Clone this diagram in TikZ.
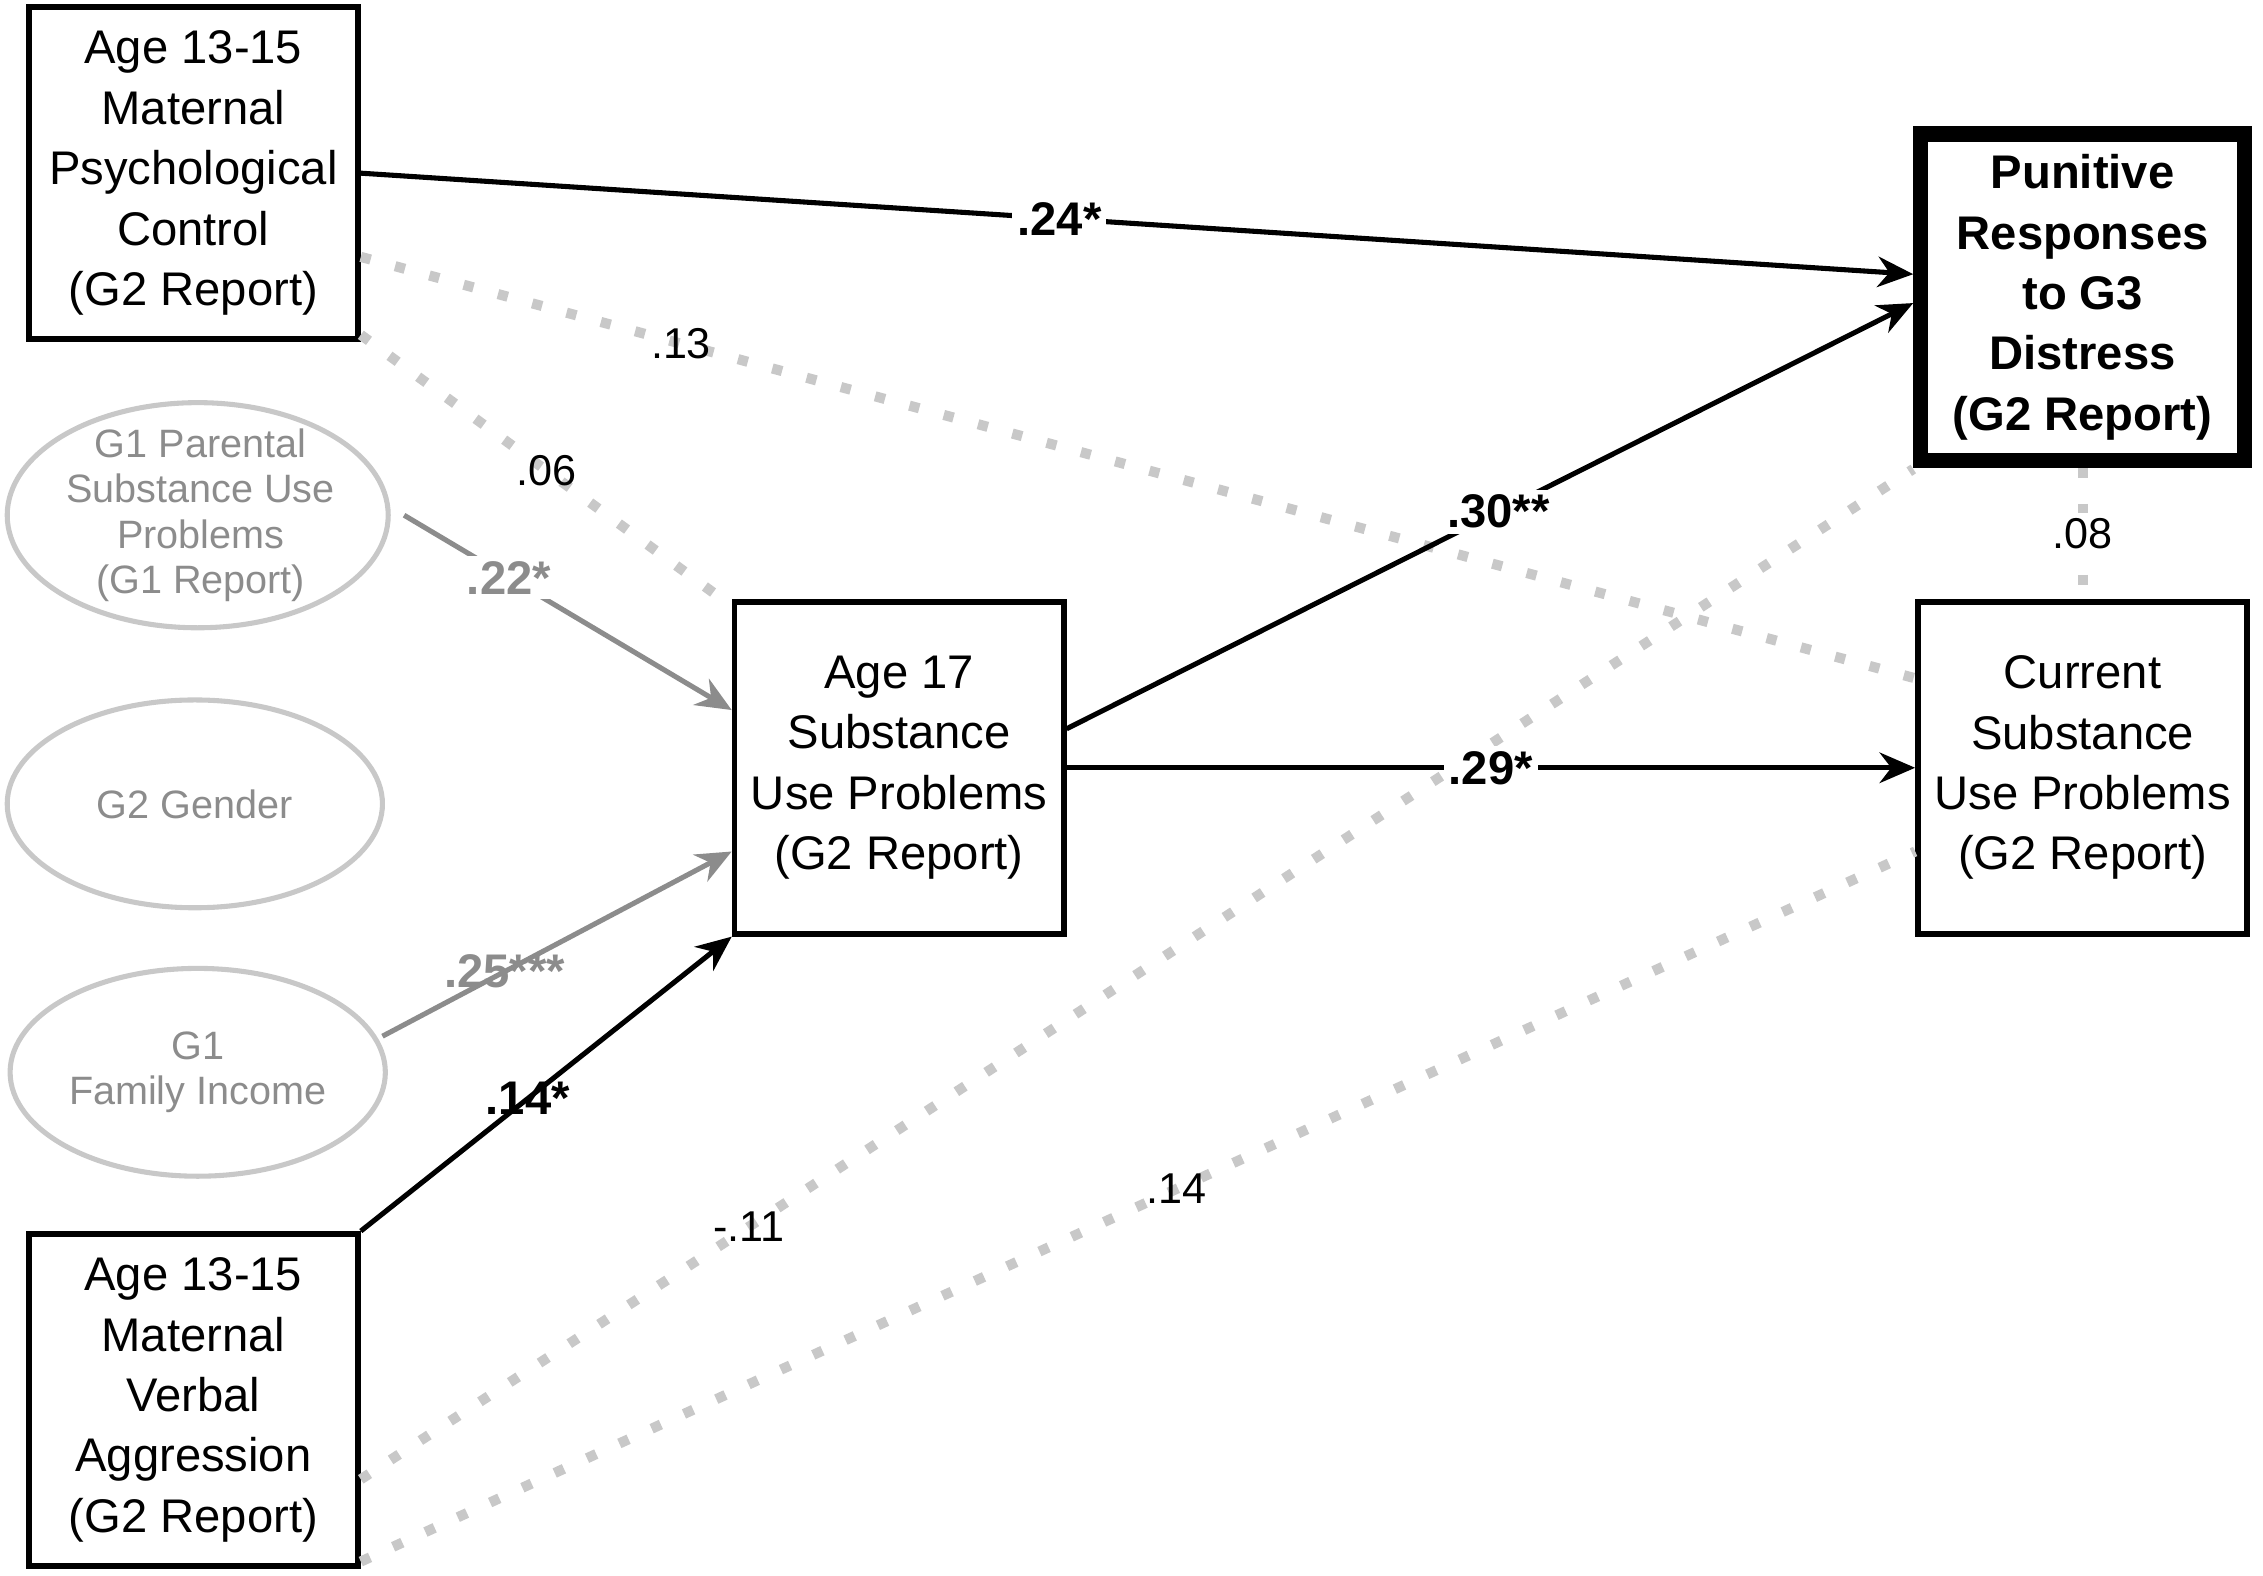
\documentclass[tikz,border=0pt]{standalone}
\usepackage{fontspec}
\setmainfont{Liberation Sans}
\usetikzlibrary{arrows.meta}
\definecolor{gr}{RGB}{140,140,140}
\definecolor{dg}{RGB}{200,200,200}
\begin{document}
\begin{tikzpicture}[x=0.01cm,y=-0.01cm,
 box/.style={draw,line width=1.1pt,minimum width=2.28cm,minimum height=2.3cm,align=center,inner sep=1pt,font=\fontsize{9.3pt}{11.9pt}\selectfont},
 ellp/.style={draw=dg,line width=1pt},
 ell/.style={align=center,text=gr,font=\fontsize{7.8pt}{8.9pt}\selectfont},
 sol/.style={line width=1pt,-{Stealth[length=7pt,width=6pt]}},
 gar/.style={line width=1pt,draw=gr,-{Stealth[length=7pt,width=6pt]}},
 dot/.style={line width=2pt,draw=dg,dash pattern=on 2pt off 5pt},
 lab/.style={fill=white,inner sep=1pt,font=\fontsize{9.3pt}{11pt}\selectfont\bfseries},
 lab2/.style={inner sep=1pt,font=\fontsize{8.5pt}{10pt}\selectfont},
]
\useasboundingbox (0,0) rectangle (1568,1092);
\node[box] (A) at (134,120) {Age 13-15\\Maternal\\Psychological\\Control\\(G2 Report)};
\node[box,line width=3pt,minimum width=2.24cm,minimum height=2.26cm,font=\fontsize{9.3pt}{11.9pt}\selectfont\bfseries] (P) at (1443,206) {Punitive\\Responses\\to G3\\Distress\\(G2 Report)};
\node[box] (S) at (623,532) {Age 17\\Substance\\Use Problems\\(G2 Report)};
\node[box] (C) at (1443,532) {Current\\Substance\\Use Problems\\(G2 Report)};
\node[box] (V) at (134,970) {Age 13-15\\Maternal\\Verbal\\Aggression\\(G2 Report)};
\draw[ellp] (137,357) ellipse [x radius=132,y radius=78];
\node[ell] (E1) at (139,357) {G1 Parental\\Substance Use\\Problems\\(G1 Report)};
\draw[ellp] (135,557) ellipse [x radius=130,y radius=72];
\node[ell] (E2) at (135,557) {G2 Gender};
\draw[ellp] (137,743) ellipse [x radius=130,y radius=72];
\node[ell] (E3) at (137,743) {G1\\Family Income};
\coordinate (e1) at (280,357);
\coordinate (e3) at (265,718);
% dotted
\draw[dot] (A.east|-0,178) -- (C.west|-0,470) node[lab2,pos=0.206,text=black] {.13};
\draw[dot] (A.east|-0,232) -- (S.west|-0,420) node[lab2,pos=0.5,text=black] {.06};
\draw[dot] (V.east|-0,1025) -- (P.west|-0,325) node[lab2,pos=0.25,text=black] {-.11};
\draw[dot] (V.east|-0,1082) -- (C.west|-0,590) node[lab2,pos=0.525,text=black] {.14};
\draw[dot] (P.south) -- (C.north) node[lab2,midway,fill=white,text=black] {.08};
% solid
\draw[sol] (A.east|-0,120) -- (P.west|-0,190) node[lab,pos=0.45] {.24*};
\draw[sol] (S.east|-0,505) -- (P.west|-0,210) node[lab,pos=0.51] {.30**};
\draw[sol] (S.east|-0,532) -- (C.west|-0,532) node[lab,pos=0.5] {.29*};
\draw[sol] (V.north east) -- (S.south west) node[lab,pos=0.45,fill=none] {.14*};
\draw[gar] (e1) -- (S.west|-0,492) node[lab,pos=0.32,text=gr] {.22*};
\draw[gar] (e3) -- (S.west|-0,590) node[lab,pos=0.35,text=gr,fill=none] {.25***};
\end{tikzpicture}
\end{document}
